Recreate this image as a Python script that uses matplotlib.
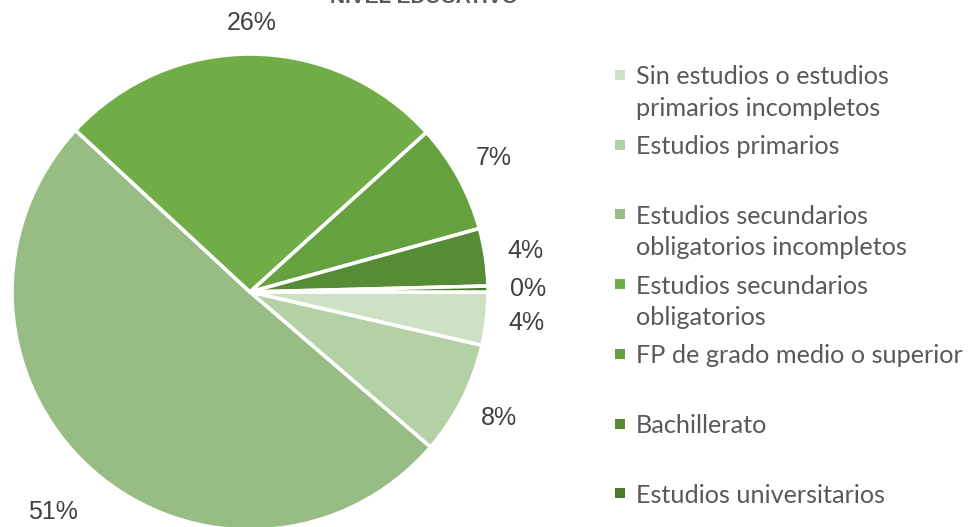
import numpy as np
import matplotlib
matplotlib.use("Agg")
import matplotlib.pyplot as plt
from matplotlib.patches import Rectangle

# ── data ────────────────────────────────────────────────────────────────
categories = [
    "Sin estudios o estudios\nprimarios incompletos",
    "Estudios primarios",
    "Estudios secundarios\nobligatorios incompletos",
    "Estudios secundarios\nobligatorios",
    "FP de grado medio o superior",
    "Bachillerato",
    "Estudios universitarios",
]
shares = [3.6, 7.7, 50.6, 26.4, 7.4, 3.9, 0.4]
colors = ["#CFE1C5", "#B4D1A5", "#97BD85", "#70AD47", "#66A13F", "#578C36", "#4A7A2E"]
label_dist = [1.17, 1.17, 1.24, 1.13, 1.17, 1.17, 1.17]
title = "NIVEL EDUCATIVO"

W, H = 971, 527
fig = plt.figure(figsize=(W / 100, H / 100), dpi=100)

# pie axes: centre (250, 292) px, radius 238 px
cx, cy, r = 250, 292, 238
ax = fig.add_axes([(cx - r) / W, (H - cy - r) / H, 2 * r / W, 2 * r / H])

wedges, texts, autotexts = ax.pie(
    shares, colors=colors, startangle=0, counterclock=False,
    autopct="%.0f%%", pctdistance=1.17,
    wedgeprops=dict(edgecolor="white", linewidth=2.6),
    textprops=dict(fontsize=18, color="#404040", family="Liberation Sans"),
)
for w, t, d in zip(wedges, autotexts, label_dist):
    th = np.deg2rad((w.theta1 + w.theta2) / 2)
    t.set_position((d * np.cos(th), d * np.sin(th)))
    t.set_ha("center")
    t.set_va("center")

ax.set_xlim(-1, 1)
ax.set_ylim(-1, 1)
ax.set_aspect("equal")
ax.axis("off")

# title, mostly cut off by the top edge (as in the original)
fig.text(424 / W, 1 - 3 / H, title, ha="center", va="baseline",
         fontsize=15, fontweight="bold", color="#595959", family="Liberation Sans")

# legend drawn by hand so that wrapped entries stay top-aligned
y0, step, line_h = 75, 69.7, 31
for i, (lab, col) in enumerate(zip(categories, colors)):
    ym = y0 + i * step
    fig.patches.append(Rectangle((615 / W, 1 - (ym + 5) / H), 10 / W, 10 / H,
                                 transform=fig.transFigure, facecolor=col,
                                 edgecolor="none"))
    for k, line in enumerate(lab.split("\n")):
        fig.text(636 / W, 1 - (ym + k * line_h) / H, line, ha="left",
                 va="center_baseline", fontsize=18.2, color="#595959", family="Lato")

fig.savefig("out.png", dpi=100, facecolor="white")
